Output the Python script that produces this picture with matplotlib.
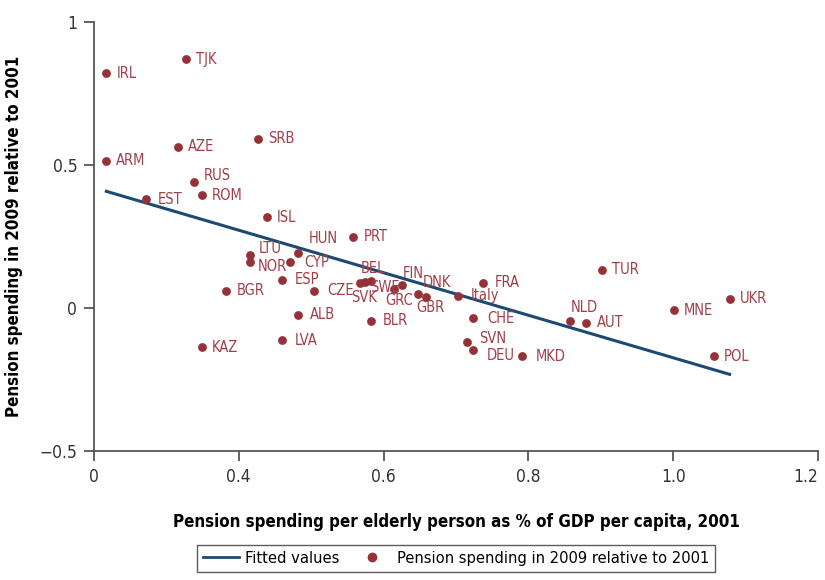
import numpy as np
import matplotlib.pyplot as plt
from matplotlib.lines import Line2D

# country codes, x = pension spending per elderly person (% of GDP per capita, 2001)
# y = pension spending in 2009 relative to 2001
countries = ['IRL', 'TJK', 'SRB', 'AZE', 'ARM', 'RUS', 'ROM', 'EST', 'ISL', 'PRT',
             'HUN', 'LTU', 'NOR', 'CYP', 'ESP', 'BGR', 'CZE', 'ALB', 'LVA', 'KAZ',
             'SVK', 'BEL', 'SWE', 'GRC', 'FIN', 'DNK', 'GBR', 'Italy', 'FRA', 'CHE',
             'BLR', 'SVN', 'DEU', 'MKD', 'NLD', 'AUT', 'TUR', 'MNE', 'UKR', 'POL']
spend_2001 = [0.217, 0.327, 0.427, 0.316, 0.217, 0.338, 0.349, 0.272, 0.439, 0.558,
              0.482, 0.416, 0.416, 0.471, 0.460, 0.383, 0.504, 0.482, 0.460, 0.349,
              0.568, 0.582, 0.575, 0.615, 0.626, 0.648, 0.659, 0.703, 0.737, 0.724,
              0.582, 0.715, 0.724, 0.791, 0.857, 0.880, 0.901, 1.001, 1.078, 1.056]
rel_2009 = [0.820, 0.869, 0.591, 0.563, 0.514, 0.440, 0.394, 0.380, 0.317, 0.250,
            0.194, 0.187, 0.162, 0.162, 0.099, 0.060, 0.060, -0.024, -0.112, -0.137,
            0.088, 0.095, 0.090, 0.067, 0.081, 0.050, 0.039, 0.043, 0.088, -0.035,
            -0.045, -0.119, -0.147, -0.168, -0.045, -0.052, 0.134, -0.007, 0.032, -0.168]

# fitted regression line end points
fit_x = [0.217, 1.078]
fit_y = [0.408, -0.232]

x_ticks = [0.2, 0.4, 0.6, 0.8, 1.0, 1.2]
x_tick_labels = ['0', '0.4', '0.6', '0.8', '1.0', '1.2']
y_ticks = [-0.5, 0, 0.5, 1]
y_tick_labels = ['\u22120.5', '0', '0.5', '1']

# label placement: (dx, dy) in pixels, horizontal alignment
offsets = {
    'RUS': (10, 7, 'left'), 'LTU': (8, 6, 'left'), 'NOR': (7, -5, 'left'),
    'HUN': (11, 14, 'left'), 'CYP': (14, -1, 'left'), 'ESP': (13, 0, 'left'),
    'CZE': (13, 0, 'left'), 'ALB': (12, 0, 'left'), 'LVA': (13, 0, 'left'),
    'BEL': (2, 12, 'center'), 'SVK': (4, -15, 'center'), 'SWE': (5, -5, 'left'),
    'GRC': (5, -12, 'center'), 'FIN': (0, 11, 'left'), 'DNK': (4, 11, 'left'),
    'GBR': (4, -11, 'center'), 'Italy': (13, 0, 'left'), 'FRA': (12, 0, 'left'),
    'CHE': (14, 0, 'left'), 'BLR': (12, 0, 'left'), 'SVN': (12, 4, 'left'),
    'DEU': (13, -5, 'left'), 'MKD': (14, 0, 'left'), 'NLD': (15, 13, 'center'),
    'AUT': (11, 0, 'left'), 'PRT': (11, 0, 'left'), 'EST': (12, 0, 'left'),
}

dot_color = '#943238'
label_color = '#a0414a'
line_color = '#1d4a72'
axis_color = '#555555'

plt.rcParams['font.family'] = ['DejaVu Sans']
plt.rcParams['font.stretch'] = 'condensed'

fig = plt.figure(figsize=(8.25, 5.8), dpi=100)
ax = fig.add_axes([94 / 825, 1 - 451 / 580, (818 - 94) / 825, (451 - 22) / 580])

ax.plot(fit_x, fit_y, color=line_color, linewidth=2.2, zorder=2)
ax.scatter(spend_2001, rel_2009, s=40, color=dot_color, zorder=3, linewidths=0)

for name, x, y in zip(countries, spend_2001, rel_2009):
    dx, dy, ha = offsets.get(name, (10, 0, 'left'))
    ax.annotate(name, (x, y), xytext=(dx * 0.72, dy * 0.72), textcoords='offset points',
                ha=ha, va='center', fontsize=10.5, color=label_color, zorder=4)

ax.set_xlim(0.2, 1.2)
ax.set_ylim(-0.5, 1)
ax.set_xticks(x_ticks)
ax.set_xticklabels(x_tick_labels)
ax.set_yticks(y_ticks)
ax.set_yticklabels(y_tick_labels)
ax.get_xticklabels()[-1].set_horizontalalignment('right')

for side in ['top', 'right']:
    ax.spines[side].set_visible(False)
for side in ['left', 'bottom']:
    ax.spines[side].set_color(axis_color)
    ax.spines[side].set_linewidth(1.3)
ax.tick_params(direction='out', length=7, width=1.3, color=axis_color,
               labelsize=12.5, labelcolor='#333333', pad=5)

ax.set_xlabel('Pension spending per elderly person as % of GDP per capita, 2001',
              fontsize=12.2, fontweight='bold', labelpad=20)
ax.set_ylabel('Pension spending in 2009 relative to 2001',
              fontsize=12.2, fontweight='bold', labelpad=12)

handles = [Line2D([0], [0], color=line_color, linewidth=2),
           Line2D([0], [0], marker='o', linestyle='none', markersize=6,
                  markerfacecolor=dot_color, markeredgecolor=dot_color)]
leg = fig.legend(handles, ['Fitted values', 'Pension spending in 2009 relative to 2001'],
                 loc='lower center', bbox_to_anchor=(456 / 825, 0.0), ncol=2,
                 fontsize=11.8, frameon=True, fancybox=False, handlelength=2.2,
                 handletextpad=0.4, columnspacing=0.9, borderpad=0.35)
leg.get_frame().set_edgecolor('#333333')
leg.get_frame().set_linewidth(1.0)

fig.savefig('out.png', dpi=100)
